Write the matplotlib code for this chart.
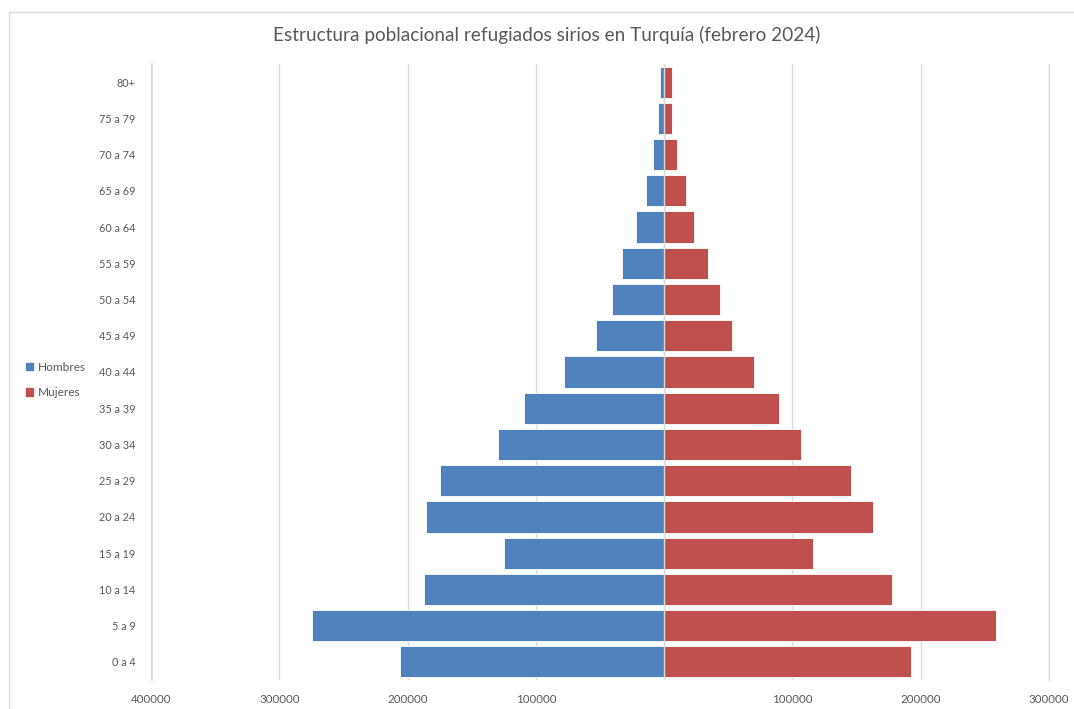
import matplotlib
matplotlib.use("Agg")
import matplotlib.pyplot as plt
from matplotlib.patches import Rectangle, Patch
from matplotlib.ticker import FuncFormatter, MultipleLocator

plt.rcParams['font.family'] = ['Lato', 'DejaVu Sans']

# grupos de edad, de abajo hacia arriba
edades = ["0 a 4", "5 a 9", "10 a 14", "15 a 19", "20 a 24", "25 a 29", "30 a 34",
          "35 a 39", "40 a 44", "45 a 49", "50 a 54", "55 a 59", "60 a 64",
          "65 a 69", "70 a 74", "75 a 79", "80+"]
hombres = [205800, 274400, 187000, 125200, 185700, 174800, 129400, 109100, 78200,
           53200, 41000, 33000, 22300, 14300, 8800, 4700, 3600]
mujeres = [192500, 258800, 177700, 116100, 162900, 145700, 106800, 89600, 70400,
           53000, 43600, 34300, 23400, 16700, 9900, 6000, 6000]

azul = "#4F81BD"
rojo = "#C0504D"
gris = "#595959"

W, H = 1074, 709
fig = plt.figure(figsize=(W / 100, H / 100), dpi=100)
ax = fig.add_axes([151 / W, 1 - 680 / H, 898 / W, 616 / H])
ax.patch.set_visible(False)

y = list(range(len(edades)))
ax.barh(y, [-h for h in hombres], height=0.86, color=azul, edgecolor="white",
        linewidth=0.6, zorder=2, label="Hombres")
ax.barh(y, mujeres, height=0.86, color=rojo, edgecolor="white",
        linewidth=0.6, zorder=2, label="Mujeres")

ax.set_xlim(-400000, 300000)
ax.set_ylim(-0.5, len(edades) - 0.5)
ax.xaxis.set_major_locator(MultipleLocator(100000))
ax.xaxis.set_major_formatter(FuncFormatter(lambda v, p: "" if v == 0 else str(int(abs(v)))))
ax.set_yticks(y)
ax.set_yticklabels(edades)
ax.tick_params(axis="x", length=0, labelsize=8.3, colors=gris, pad=10)
ax.tick_params(axis="y", length=0, labelsize=7.8, colors=gris, pad=11)
for s in ax.spines.values():
    s.set_visible(False)
ax.grid(axis="x", color="#D9D9D9", linewidth=1, zorder=0)
ax.axvline(-399000, color="#D9D9D9", linewidth=1.2, zorder=0, clip_on=False)
ax.axvline(300000, color="#D9D9D9", linewidth=1, zorder=0, clip_on=False)
ax.axvline(0, color="#D9D9D9", linewidth=1, zorder=3)

fig.text(547 / W, 1 - 35 / H, "Estructura poblacional refugiados sirios en Turquía (febrero 2024)",
         ha="center", va="center", fontsize=13.7, color=gris)

# leyenda a la izquierda
handles = [Patch(color=azul, label="Hombres"), Patch(color=rojo, label="Mujeres")]
fig.legend(handles=handles, loc="center left", bbox_to_anchor=(15 / W, 1 - 380 / H),
           frameon=False, fontsize=8.6, handlelength=0.6, handleheight=0.6,
           handletextpad=0.4, labelspacing=1.2, labelcolor=gris)

# borde del grafico
fig.patches.append(Rectangle((9 / W, -0.05), 1.1, 1 - 12 / H + 0.05, transform=fig.transFigure,
                             fill=False, edgecolor="#D9D9D9", linewidth=1))

fig.savefig("out.png", dpi=100, facecolor="white")
